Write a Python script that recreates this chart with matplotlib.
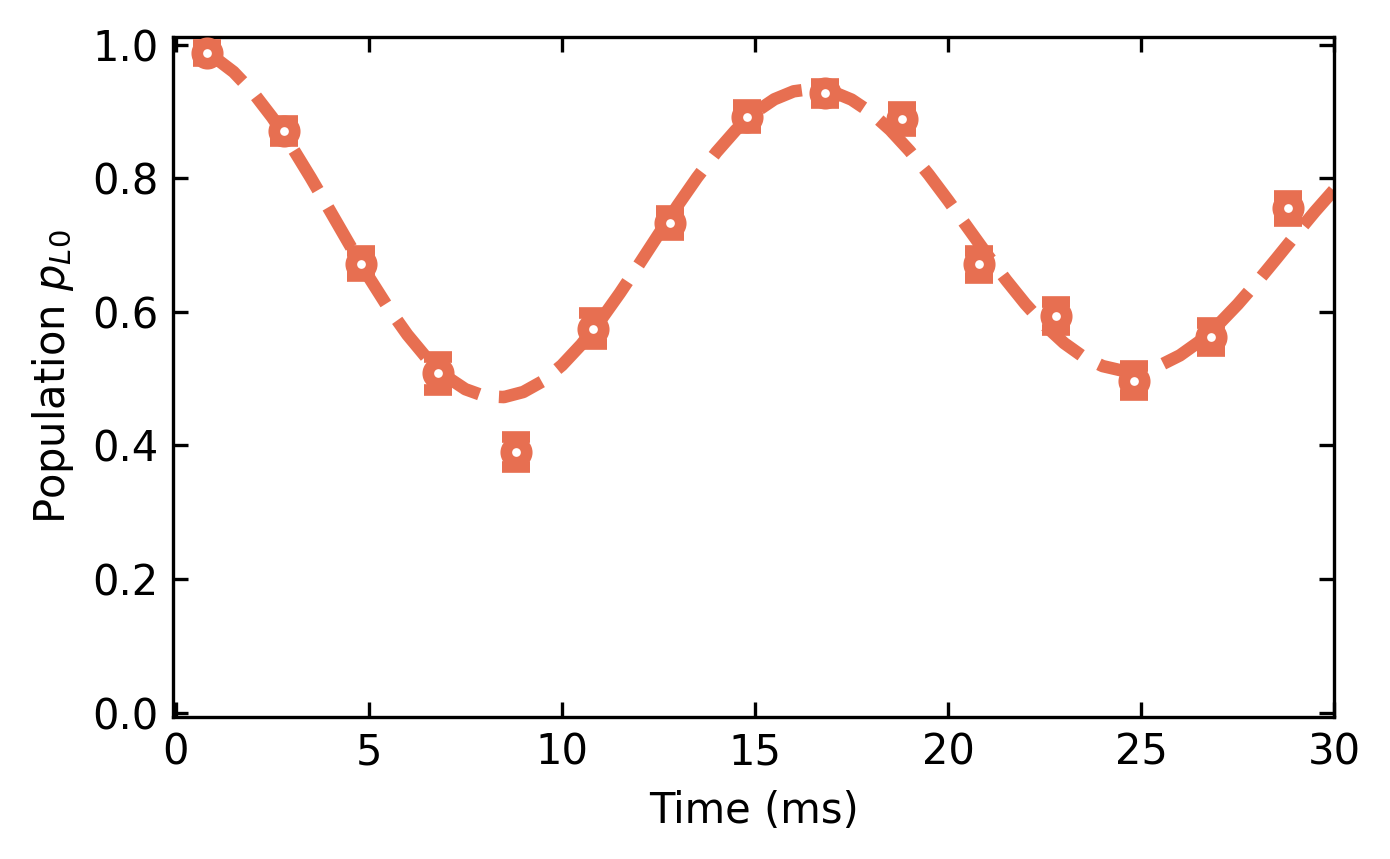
import matplotlib
matplotlib.use("Agg")
import matplotlib.pyplot as plt

# Measured populations (markers with error bars)
t_data = [0.8, 2.8, 4.8, 6.8, 8.8, 10.8, 12.8, 14.8, 16.8, 18.8, 20.8, 22.8, 24.8, 26.8, 28.8]
p_data = [0.988, 0.871, 0.672, 0.508, 0.390, 0.575, 0.733, 0.892, 0.927, 0.889, 0.671, 0.594, 0.497, 0.563, 0.755]
p_err = [0.012, 0.015, 0.019, 0.025, 0.022, 0.023, 0.018, 0.017, 0.014, 0.018, 0.020, 0.021, 0.022, 0.021, 0.019]

# Fitted curve (dashed)
t_fit = [0.8, 1.0, 1.5, 2.0, 2.5, 3.0, 3.5, 4.0, 4.5, 5.0, 5.5, 6.0, 6.5, 7.0, 7.5, 8.0, 8.5, 9.0, 9.5, 10.0,
         10.5, 11.0, 11.5, 12.0, 12.5, 13.0, 13.5, 14.0, 14.5, 15.0, 15.5, 16.0, 16.5, 17.0, 17.5, 18.0, 18.5,
         19.0, 19.5, 20.0, 20.5, 21.0, 21.5, 22.0, 22.5, 23.0, 23.5, 24.0, 24.5, 25.0, 25.5, 26.0, 26.5, 27.0,
         27.5, 28.0, 28.5, 29.0, 29.5, 30.0]
p_fit = [0.9874, 0.9811, 0.9591, 0.9287, 0.8911, 0.8478, 0.8005, 0.7509, 0.7008, 0.6521, 0.6065, 0.5657,
         0.5309, 0.5035, 0.4842, 0.4738, 0.4724, 0.4800, 0.4961, 0.5200, 0.5509, 0.5873, 0.6280, 0.6713,
         0.7157, 0.7595, 0.8011, 0.8390, 0.8719, 0.8986, 0.9182, 0.9301, 0.9340, 0.9297, 0.9177, 0.8983,
         0.8724, 0.8410, 0.8053, 0.7667, 0.7266, 0.6864, 0.6477, 0.6118, 0.5800, 0.5533, 0.5327, 0.5188,
         0.5121, 0.5126, 0.5203, 0.5348, 0.5554, 0.5813, 0.6114, 0.6447, 0.6798, 0.7155, 0.7504, 0.7832]

x_ticks = [0, 5, 10, 15, 20, 25, 30]
y_ticks = [0.0, 0.2, 0.4, 0.6, 0.8, 1.0]

color = "#E76F51"

fig = plt.figure(figsize=(1390 / 300, 859 / 300), dpi=300)
ax = fig.add_axes([0.1247, 0.1657, 0.9600 - 0.1247, 0.9566 - 0.1657])

ax.plot(t_fit, p_fit, "--", color=color, lw=3, zorder=2)
ax.errorbar(t_data, p_data, yerr=p_err, fmt="o", color=color, mfc="white", mec=color,
            ms=4.9, mew=2.8, elinewidth=2, capsize=3.3, capthick=2, zorder=3)

ax.set_xlim(-0.06, 30)
ax.set_ylim(-0.006, 1.011)
ax.set_xticks(x_ticks)
ax.set_yticks(y_ticks)
ax.set_xticklabels([str(v) for v in x_ticks])
ax.set_yticklabels(["%.1f" % v for v in y_ticks])
ax.tick_params(direction="in", top=True, right=True, labelsize=10)
ax.set_xlabel("Time (ms)", fontsize=10)
ax.set_ylabel("Population $p_{L0}$", fontsize=10)

fig.savefig("out.png", dpi=300)
